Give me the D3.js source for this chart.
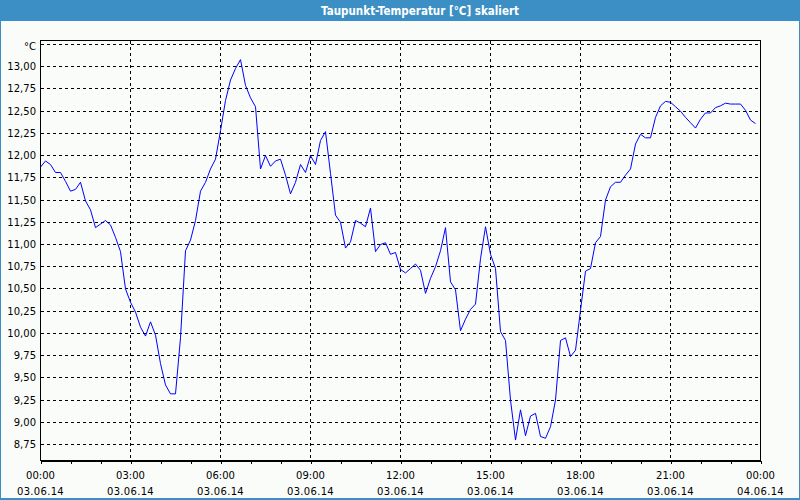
<!DOCTYPE html>
<html><head><meta charset="utf-8">
<script src="https://cdn.jsdelivr.net/npm/d3@7"></script>
<style>html,body{margin:0;padding:0;background:#fff;}svg{display:block;}</style>
</head><body>
<svg id="c" width="800" height="500"></svg>
<script>
const title = "Taupunkt-Temperatur [°C] skaliert";
const unitLabel = "°C";
const startTime = "2014-06-03T00:00";
const endTime = "2014-06-04T00:00";
const stepMinutes = 10;
const values = [
 11.87,11.94,11.90,11.81,11.81,11.71,11.60,11.62,11.70,11.49,
 11.39,11.19,11.23,11.27,11.22,11.08,10.92,10.50,10.35,10.24,
 10.07,9.97,10.13,9.98,9.66,9.42,9.32,9.32,9.95,10.93,
 11.05,11.27,11.60,11.70,11.85,11.96,12.28,12.62,12.85,12.98,
 13.08,12.79,12.65,12.55,11.85,12.00,11.88,11.94,11.96,11.78,
 11.57,11.70,11.90,11.81,12.00,11.90,12.17,12.27,11.80,11.33,
 11.25,10.96,11.03,11.27,11.24,11.20,11.41,10.92,11.00,11.02,
 10.89,10.91,10.72,10.68,10.73,10.78,10.71,10.45,10.62,10.75,
 10.93,11.19,10.58,10.49,10.03,10.16,10.27,10.33,10.84,11.20,
 10.89,10.73,10.02,9.92,9.25,8.80,9.14,8.85,9.07,9.10,
 8.84,8.82,8.95,9.25,9.92,9.95,9.74,9.81,10.26,10.70,
 10.73,11.02,11.09,11.50,11.65,11.70,11.70,11.78,11.85,12.13,
 12.24,12.20,12.20,12.43,12.56,12.61,12.60,12.55,12.50,12.43,
 12.37,12.31,12.41,12.48,12.48,12.54,12.56,12.59,12.58,12.58,
 12.58,12.51,12.40,12.36
];
const yTicks = [8.75,9.00,9.25,9.50,9.75,10.00,10.25,10.50,10.75,11.00,11.25,11.50,11.75,12.00,12.25,12.50,12.75,13.00,13.25];
const yDomain = [8.57, 13.295];

const svg = d3.select("#c");
const L = 40.5, R = 760.5, T = 40.5, B = 460.5;
const font = "'DejaVu Sans', Verdana, sans-serif";

// background & frame
svg.append("rect").attr("x",0).attr("y",0).attr("width",800).attr("height",500).attr("fill","#3c8fc4");
svg.append("rect").attr("x",1).attr("y",21).attr("width",798).attr("height",477).attr("fill","#fafcfa");
svg.append("text").attr("x",420).attr("y",15).attr("text-anchor","middle")
  .attr("fill","#fff").attr("font-family",font).attr("font-weight","bold").attr("font-size",11.5)
  .attr("textLength",198).attr("lengthAdjust","spacingAndGlyphs").text(title);

const parse = d3.timeParse("%Y-%m-%dT%H:%M");
const t0 = parse(startTime), t1 = parse(endTime);
const data = values.map((v,i)=>({t:d3.timeMinute.offset(t0,i*stepMinutes), v}));

const x = d3.scaleTime().domain([t0,t1]).range([L,R]);
const y = d3.scaleLinear().domain(yDomain).range([B,T]);
const snap = p => Math.round(p-0.5)+0.5;

// horizontal grid
svg.append("g").selectAll("line").data(yTicks).join("line")
  .attr("x1",L).attr("x2",R).attr("y1",d=>snap(y(d))).attr("y2",d=>snap(y(d)))
  .attr("stroke","#000").attr("stroke-width",1).attr("stroke-dasharray","3,3").attr("shape-rendering","crispEdges");
// vertical grid
const majorTimes = d3.timeHour.every(3).range(t0, d3.timeMinute.offset(t1,1));
svg.append("g").selectAll("line").data(majorTimes.filter(d=>+d!==+t0 && +d!==+t1)).join("line")
  .attr("x1",d=>snap(x(d))).attr("x2",d=>snap(x(d))).attr("y1",T).attr("y2",B)
  .attr("stroke","#000").attr("stroke-width",1).attr("stroke-dasharray","3,3").attr("shape-rendering","crispEdges");

// frame of plot
svg.append("rect").attr("x",L).attr("y",T).attr("width",R-L).attr("height",B-T)
  .attr("fill","none").attr("stroke","#000").attr("stroke-width",1).attr("shape-rendering","crispEdges");

// y labels
svg.append("g").selectAll("text").data(yTicks).join("text")
  .attr("x",36).attr("y",d=>snap(y(d))+(d===13.25?5:3.8)).attr("text-anchor","end")
  .attr("font-family",font).attr("font-size",10).attr("fill","#000")
  .text(d=> d===13.25 ? unitLabel : d3.format(".2f")(d).replace(".",","));

// x axis ticks
const xAxis = d3.axisBottom(x).ticks(d3.timeHour.every(1)).tickSize(3).tickFormat("");
const gx = svg.append("g").attr("transform",`translate(0,${B})`).call(xAxis);
gx.select(".domain").attr("stroke","#000").attr("shape-rendering","crispEdges");
gx.selectAll(".tick line").attr("stroke","#000").attr("shape-rendering","crispEdges");

const fTime = d3.timeFormat("%H:%M"), fDate = d3.timeFormat("%d.%m.%y");
const lab = svg.append("g").selectAll("g").data(majorTimes).join("g");
lab.append("text").attr("x",d=>x(d)).attr("y",479).attr("text-anchor","middle")
  .attr("font-family",font).attr("font-size",10).attr("fill","#000").text(fTime);
lab.append("text").attr("x",d=>x(d)).attr("y",494.5).attr("text-anchor","middle")
  .attr("font-family",font).attr("font-size",10).attr("fill","#000").attr("letter-spacing",0.3).text(fDate);

// line
svg.append("path").datum(data)
  .attr("d", d3.line().x(d=>x(d.t)).y(d=>y(d.v)))
  .attr("fill","none").attr("stroke","#0000ff").attr("stroke-width",1);
</script>
</body></html>
